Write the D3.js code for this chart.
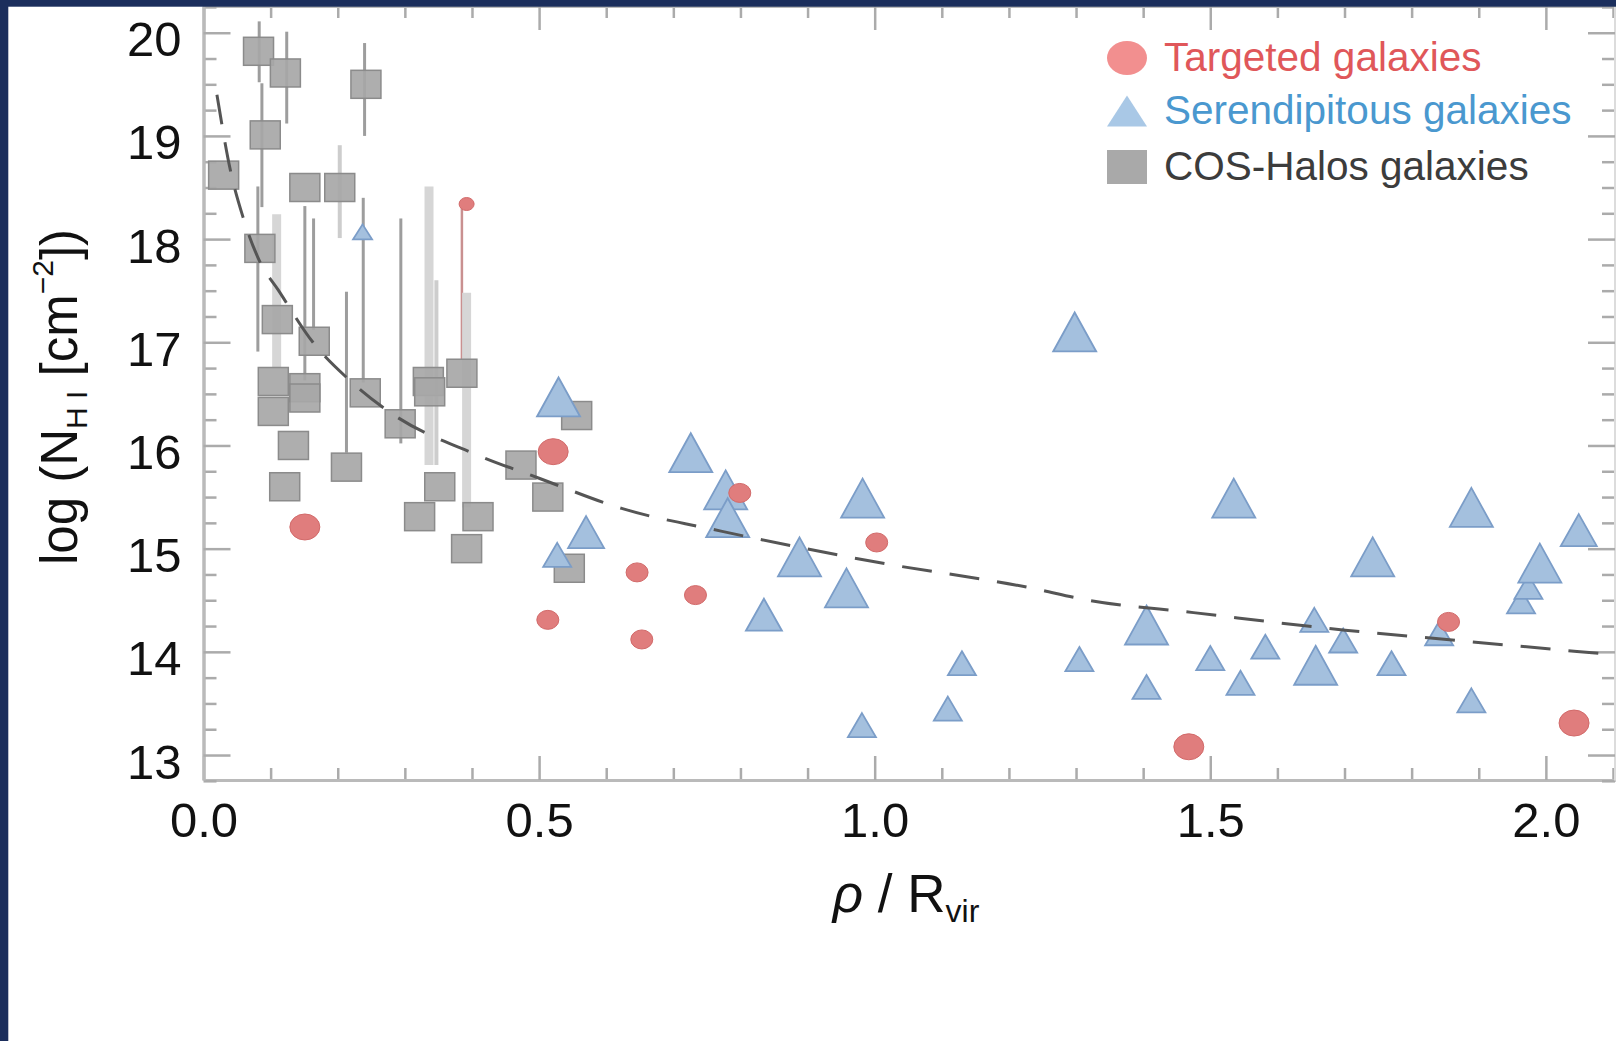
<!DOCTYPE html>
<html>
<head>
<meta charset="utf-8">
<style>
    body { margin: 0; background: #fff; }
    svg { display: block; }
    text { font-family: "Liberation Sans", Arial, Helvetica, sans-serif; }
</style>
</head>
<body>
<svg width="1616" height="1041"></svg>

<script src="https://cdn.jsdelivr.net/npm/d3@7"></script>
<script>
// ---- data ----
// COS-Halos galaxies (squares)
const cosRho = [0.082, 0.122, 0.242, 0.092, 0.030, 0.151, 0.203, 0.084, 0.110, 0.165,
                0.104, 0.151, 0.151, 0.104, 0.241, 0.293, 0.335, 0.337, 0.385, 0.134,
                0.213, 0.121, 0.352, 0.322, 0.409, 0.392, 0.473, 0.513, 0.556, 0.545];
const cosN = [19.82, 19.61, 19.50, 19.01, 18.62, 18.50, 18.50, 17.91, 17.22, 17.01,
              16.62, 16.56, 16.46, 16.33, 16.51, 16.21, 16.62, 16.52, 16.70, 16.00,
              15.79, 15.60, 15.60, 15.31, 15.31, 15.00, 15.81, 15.50, 16.29, 14.81];

// vertical error bars / limits
const barRho = [0.083, 0.124, 0.240, 0.087, 0.081, 0.109, 0.151, 0.164, 0.203, 0.213, 0.238, 0.294, 0.336, 0.347, 0.385, 0.392];
const barLo  = [19.52, 19.12, 19.00, 18.31, 16.91, 16.76, 16.63, 17.12, 18.01, 15.93, 16.61, 16.02, 15.81, 15.81, 16.83, 15.40];
const barHi  = [20.11, 20.01, 19.90, 19.51, 18.51, 18.24, 18.32, 18.20, 18.91, 17.49, 18.40, 18.20, 18.51, 17.60, 18.34, 17.48];
const barKind = ["thin", "thin", "thin", "thin", "thin", "wide", "thin", "thin", "light", "thin", "thin", "thin", "wide", "light", "red", "wide"];

// Targeted galaxies (circles)
const tgtRho = [0.151, 0.521, 0.513, 0.646, 0.653, 0.733, 0.799, 1.003, 1.468, 1.855, 2.042, 0.392];
const tgtN   = [15.21, 15.94, 14.31, 14.77, 14.12, 14.55, 15.54, 15.06, 13.08, 14.29, 13.31, 18.34];
const tgtSize = ["L", "L", "S", "S", "S", "S", "S", "S", "L", "S", "L", "T"];

// Serendipitous galaxies (triangles)
const serRho = [0.237, 0.529, 0.527, 0.570, 0.726, 0.778, 0.781, 0.835, 0.888, 0.982,
                0.958, 0.981, 1.109, 1.130, 1.298, 1.305, 1.405, 1.405, 1.500, 1.535,
                1.545, 1.582, 1.657, 1.655, 1.698, 1.742, 1.770, 1.841, 1.889, 1.889,
                1.963, 1.974, 1.991, 2.049];
const serN = [18.07, 16.47, 14.94, 15.16, 15.93, 15.57, 15.30, 14.36, 14.92, 15.49,
              14.62, 13.29, 13.45, 13.89, 17.10, 13.93, 14.26, 13.66, 13.94, 15.49,
              13.70, 14.05, 13.87, 14.31, 14.11, 14.92, 13.89, 14.18, 15.40, 13.53,
              14.49, 14.63, 14.86, 15.18];
const serSize = ["T", "L", "S", "M", "L", "L", "L", "M", "L", "L",
                 "L", "S", "S", "S", "L", "S", "L", "S", "S", "L",
                 "S", "S", "L", "S", "S", "L", "S", "S", "L", "S",
                 "S", "S", "L", "M"];

// dashed fit curve
const fitRho = [0.020, 0.040, 0.059, 0.084, 0.111, 0.163, 0.218, 0.278, 0.407, 0.501,
                0.623, 0.771, 1.002, 1.232, 1.319, 1.475, 1.701, 1.868, 2.104];
const fitN = [19.40, 18.67, 18.21, 17.78, 17.51, 17.00, 16.63, 16.32, 15.91, 15.68,
              15.39, 15.17, 14.87, 14.62, 14.50, 14.38, 14.21, 14.11, 13.97];

const xTicks = [0, 0.5, 1.0, 1.5, 2.0];
const yTicks = [13, 14, 15, 16, 17, 18, 19, 20];
const legendLabels = ["Targeted galaxies", "Serendipitous galaxies", "COS-Halos galaxies"];

// ---- setup ----
let width = 1616;
let height = 1041;
let svg = d3.select("svg");

svg.append("rect").attr("width", width).attr("height", height).attr("fill", "#fff");

let x = d3.scaleLinear().domain([0, 2.103]).range([203.5, 1615]);
let y = d3.scaleLinear().domain([12.758, 20.259]).range([780, 6]);

let xMinor = d3.range(0, 2.11, 0.1).filter(v => Math.abs(v * 2 - Math.round(v * 2)) > 0.01);
let yMinor = d3.range(12.75, 20.26, 0.25).filter(v => Math.abs(v - Math.round(v)) > 0.01);

// ---- axes (ticks point inward on all four sides) ----
let axes = svg.append("g").attr("class", "axes");

function addAxis(axisFn, scale, minor, major, bigLen, smallLen, tx, ty, fmt, pad) {
    let g = axes.append("g").attr("transform", `translate(${tx},${ty})`);
    g.append("g").call(axisFn(scale).tickValues(minor).tickSize(-smallLen).tickSizeOuter(0).tickFormat(""));
    let gm = g.append("g").call(axisFn(scale).tickValues(major).tickSize(-bigLen).tickSizeOuter(0)
        .tickPadding(pad).tickFormat(fmt || ""));
    return gm;
}

let gBottom = addAxis(d3.axisBottom, x, xMinor, xTicks, 24, 12, 0, 780, d3.format(".1f"), 22);
addAxis(d3.axisTop, x, xMinor, xTicks, 24, 12, 0, 6, null, 0);
let gLeft = addAxis(d3.axisLeft, y, yMinor, yTicks, 27, 13, 203.5, 0, d3.format("d"), 22);
let gRight = addAxis(d3.axisRight, y, yMinor, yTicks, 27, 13, 1615, 0, null, 0);

axes.selectAll(".domain").attr("stroke", "#bababa").attr("stroke-width", 3);
gRight.select(".domain").attr("stroke", "#dcdcdc");
axes.selectAll(".tick line").attr("stroke", "#ababab").attr("stroke-width", 2.5);
axes.selectAll(".tick text").attr("fill", "#111").attr("font-size", 49);
gLeft.selectAll(".tick text").attr("dy", "0.47em");

// ---- error bars ----
let barWidth = d3.scaleOrdinal().domain(["thin", "wide", "light", "red"]).range([3, 9, 4, 2.5]);
let barColor = d3.scaleOrdinal().domain(["thin", "wide", "light", "red"]).range(["#9d9d9d", "#d6d6d6", "#cdcdcd", "#c99090"]);

svg.append("g")
    .selectAll("line")
    .data(barRho.map((r, i) => ({ r: r, lo: barLo[i], hi: barHi[i], k: barKind[i] })))
    .join("line")
    .attr("x1", d => x(d.r)).attr("x2", d => x(d.r))
    .attr("y1", d => y(d.hi)).attr("y2", d => y(d.lo))
    .attr("stroke", d => barColor(d.k))
    .attr("stroke-width", d => barWidth(d.k));

// ---- COS-Halos squares ----
svg.append("g")
    .selectAll("rect")
    .data(cosRho.map((r, i) => ({ r: r, n: cosN[i] })))
    .join("rect")
    .attr("x", d => x(d.r) - 15)
    .attr("y", d => y(d.n) - 14)
    .attr("width", 30)
    .attr("height", 28)
    .attr("fill", "#a7a7a7")
    .attr("fill-opacity", 0.92)
    .attr("stroke", "#8b8b8b")
    .attr("stroke-width", 1.5);

// ---- serendipitous triangles ----
let triW = d3.scaleOrdinal().domain(["T", "S", "M", "L"]).range([19, 28, 36, 43]);
let triH = d3.scaleOrdinal().domain(["T", "S", "M", "L"]).range([15, 24, 32, 39]);

function triPath(w, h) {
    return `M0,${-h / 2}L${w / 2},${h / 2}L${-w / 2},${h / 2}Z`;
}

svg.append("g")
    .selectAll("path")
    .data(serRho.map((r, i) => ({ r: r, n: serN[i], s: serSize[i] })))
    .join("path")
    .attr("transform", d => `translate(${x(d.r)},${y(d.n)})`)
    .attr("d", d => triPath(triW(d.s), triH(d.s)))
    .attr("fill", "#a4c0de")
    .attr("stroke", "#7b9dc8")
    .attr("stroke-width", 1.8);

// ---- targeted circles ----
let cRx = d3.scaleOrdinal().domain(["T", "S", "L"]).range([7.5, 11, 15]);
let cRy = d3.scaleOrdinal().domain(["T", "S", "L"]).range([6.5, 9.5, 13]);

svg.append("g")
    .selectAll("ellipse")
    .data(tgtRho.map((r, i) => ({ r: r, n: tgtN[i], s: tgtSize[i] })))
    .join("ellipse")
    .attr("cx", d => x(d.r))
    .attr("cy", d => y(d.n))
    .attr("rx", d => cRx(d.s))
    .attr("ry", d => cRy(d.s))
    .attr("fill", "#e07d7d")
    .attr("stroke", "#d26a6a")
    .attr("stroke-width", 1);

// ---- dashed fit ----
let line = d3.line()
    .x(d => x(d[0]))
    .y(d => y(d[1]))
    .curve(d3.curveMonotoneX);

svg.append("path")
    .attr("d", line(fitRho.map((r, i) => [r, fitN[i]])))
    .attr("fill", "none")
    .attr("stroke", "#555")
    .attr("stroke-width", 3)
    .attr("stroke-dasharray", "30,18");

// ---- axis titles ----
let xt = svg.append("text")
    .attr("x", 906)
    .attr("y", 912)
    .attr("text-anchor", "middle")
    .attr("font-size", 53)
    .attr("fill", "#111");
xt.append("tspan").attr("font-style", "italic").text("ρ");
xt.append("tspan").text(" / R");
xt.append("tspan").attr("font-size", 32).attr("dy", 10).text("vir");

let yt = svg.append("text")
    .attr("transform", "translate(77,397) rotate(-90)")
    .attr("text-anchor", "middle")
    .attr("font-size", 51)
    .attr("fill", "#111");
yt.append("tspan").text("log (N");
yt.append("tspan").attr("font-size", 30).attr("dy", 10).text("H I");
yt.append("tspan").attr("dy", -10).text(" [cm");
yt.append("tspan").attr("font-size", 30).attr("dy", -24).text("−2");
yt.append("tspan").attr("dy", 24).text("])");

// ---- legend ----
let legendColors = ["#e0575a", "#4a98cf", "#3c3c3c"];
let legend = svg.append("g").attr("transform", "translate(1127,0)");
let rows = legend.selectAll("g")
    .data(legendLabels)
    .join("g")
    .attr("transform", (d, i) => `translate(0,${[58, 111, 167][i]})`);

rows.filter((d, i) => i == 0).append("ellipse")
    .attr("rx", 20).attr("ry", 17).attr("fill", "#f28f8f");
rows.filter((d, i) => i == 1).append("path")
    .attr("d", triPath(40, 31)).attr("fill", "#a9c8e6");
rows.filter((d, i) => i == 2).append("rect")
    .attr("x", -20).attr("y", -17).attr("width", 40).attr("height", 34).attr("fill", "#a9a9a9");

rows.append("text")
    .attr("x", 37)
    .attr("y", 13)
    .attr("font-size", 40.5)
    .attr("fill", (d, i) => legendColors[i])
    .text(d => d);

// ---- slide frame (navy strips at top and left) ----
svg.append("rect").attr("x", 0).attr("y", 0).attr("width", width).attr("height", 6.7).attr("fill", "#1b2e5c");
svg.append("rect").attr("x", 0).attr("y", 0).attr("width", 8.3).attr("height", height).attr("fill", "#1b2e5c");
</script>
</body>
</html>
